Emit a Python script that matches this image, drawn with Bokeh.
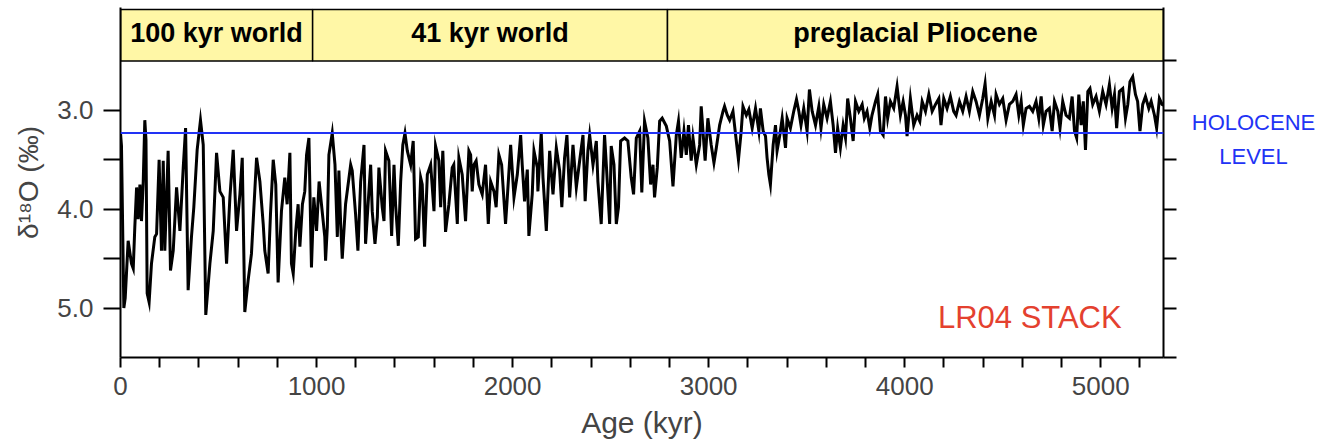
import numpy as np
from bokeh.plotting import figure
from bokeh.layouts import row
from bokeh.models import Range1d, LinearAxis, FixedTicker, Span, Label, ColumnDataSource, PrintfTickFormatter
from bokeh.core.properties import value
from bokeh.embed import file_html
from bokeh.resources import INLINE

# ---- LR04 benthic d18O stack (age kyr, d18O per mil) ----
age_100kyr = [0, 5, 17, 24, 39, 56, 65, 73, 82, 90, 99, 107, 116, 124, 130, 136, 146, 158, 175, 184,
              197, 209, 218, 226, 243, 255, 269, 286, 303, 311, 320, 332, 345, 362, 374, 391, 408, 422, 435, 456,
              473, 490, 507, 524, 541, 558, 575, 592, 609, 621, 634, 651, 668, 694, 711, 728, 736, 753, 765, 779,
              792, 804, 821, 838, 850, 864, 872, 881, 894, 906, 915, 928, 940, 949, 961, 974, 986, 1000, 1013, 1025,
              1042]
d18o_100kyr = [3.23, 3.36, 5.00, 4.90, 4.32, 4.55, 4.60, 4.18, 3.78, 4.10, 3.75, 4.12, 3.72, 3.10, 3.30, 4.85, 4.94, 4.55, 4.28, 4.25,
               3.50, 4.42, 3.51, 4.42, 3.41, 4.62, 4.42, 3.78, 4.22, 3.92, 3.58, 3.18, 4.82, 4.28, 3.98, 3.40, 3.10, 3.35, 5.07, 4.55,
               4.22, 3.43, 3.82, 3.88, 4.55, 3.88, 3.40, 4.22, 3.85, 3.48, 5.04, 4.72, 4.45, 3.48, 3.72, 4.15, 4.42, 4.65, 4.05, 3.50,
               3.75, 4.74, 4.02, 3.68, 3.95, 3.43, 4.55, 4.65, 4.22, 3.95, 4.38, 3.95, 3.82, 3.45, 3.28, 4.59, 3.88, 4.22, 3.72, 3.95,
               4.28]

age_41kyr_a = [1046, 1055, 1063, 1080, 1094, 1106, 1114, 1123, 1131, 1148, 1174, 1182, 1199, 1211, 1225, 1242, 1250, 1267, 1276, 1284,
               1298, 1310, 1318, 1335, 1344, 1352, 1369, 1383, 1395, 1403, 1417, 1429, 1440, 1451, 1463, 1480, 1493, 1505, 1519, 1531,
               1539, 1551, 1565, 1582, 1599, 1607, 1624, 1633, 1644, 1658, 1675, 1692, 1700, 1718, 1726, 1743, 1760, 1777, 1786, 1794,
               1803, 1814, 1828, 1845, 1862, 1876, 1888, 1905, 1916, 1930, 1944, 1964, 1973, 1990, 2007, 2024, 2041, 2049, 2061, 2075,
               2083, 2100, 2109, 2126]
d18o_41kyr_a = [4.52, 4.18, 3.45, 3.23, 3.55, 4.28, 3.61, 4.15, 4.50, 3.95, 3.55, 3.61, 4.05, 4.42, 3.72, 3.35, 4.35, 3.82, 3.55, 4.02,
                4.35, 4.08, 3.58, 3.98, 4.12, 3.41, 3.51, 4.27, 3.55, 3.95, 4.37, 3.72, 3.35, 3.23, 3.41, 3.55, 3.31, 4.30, 4.28, 3.68,
                3.75, 4.38, 3.65, 3.55, 4.02, 3.36, 3.51, 3.98, 3.41, 4.23, 3.95, 3.58, 3.55, 4.15, 3.48, 3.65, 4.12, 3.41, 3.45, 3.82,
                3.55, 3.51, 3.75, 3.85, 3.55, 4.15, 3.72, 3.82, 3.98, 3.45, 3.55, 4.15, 3.88, 3.35, 3.88, 3.65, 3.25, 3.55, 3.92, 3.60,
                4.27, 3.85, 3.41, 3.58]

age_41kyr_b = [2129, 2146, 2155, 2172, 2189, 2206, 2223, 2240, 2251, 2265, 2277, 2291, 2308, 2325, 2342, 2359, 2370, 2384, 2393, 2410,
               2427, 2435, 2452, 2469, 2478, 2495, 2503, 2517, 2529, 2540, 2551, 2571, 2588, 2605, 2617, 2631, 2648, 2659, 2673, 2690,
               2704, 2716, 2724, 2738, 2750, 2763, 2784, 2801, 2818, 2835, 2846, 2860, 2874, 2886, 2897, 2911, 2920, 2937, 2954, 2962,
               2971, 2982, 2996, 3013, 3027, 3039, 3056, 3073, 3081, 3095, 3107, 3124, 3141, 3152, 3166, 3175, 3192]
d18o_41kyr_b = [3.82, 3.23, 3.68, 4.22, 3.41, 3.85, 3.38, 3.61, 3.98, 3.48, 3.25, 3.88, 3.35, 3.78, 3.51, 3.25, 3.92, 3.41, 3.25, 3.55,
                3.31, 3.72, 4.15, 3.25, 3.55, 4.15, 3.36, 3.55, 4.15, 3.98, 3.31, 3.28, 3.31, 3.68, 3.85, 3.28, 3.21, 3.83, 3.11, 3.28,
                3.75, 3.55, 3.88, 3.58, 3.11, 3.08, 3.16, 3.31, 3.77, 3.25, 3.11, 3.48, 3.21, 3.45, 3.15, 3.51, 3.28, 3.55, 3.35, 2.96,
                3.21, 3.51, 3.08, 3.35, 3.53, 3.38, 3.15, 3.01, 2.96, 3.05, 3.10, 3.01, 3.31, 3.50, 3.21, 2.96, 3.05]

age_plio_a = [3205, 3222, 3239, 3256, 3264, 3278, 3290, 3298, 3307, 3315, 3329, 3341, 3349, 3363, 3375, 3392, 3400, 3417, 3434, 3448,
              3460, 3471, 3485, 3502, 3514, 3528, 3545, 3562, 3573, 3587, 3604, 3621, 3635, 3647, 3658, 3672, 3686, 3698, 3709, 3723,
              3737, 3749, 3766, 3783, 3794, 3808, 3822, 3833, 3851, 3862, 3876, 3890, 3902, 3913, 3927, 3944, 3961, 3978, 3992, 4004,
              4012, 4029, 4046, 4063, 4077, 4089, 4106, 4123, 4140, 4157, 4174, 4185, 4199, 4216, 4233, 4250]
d18o_plio_a = [2.99, 3.18, 2.98, 3.21, 2.98, 3.21, 3.26, 3.48, 3.65, 3.75, 3.35, 3.15, 3.41, 3.25, 3.08, 3.38, 3.08, 3.18, 3.01, 2.89,
               3.01, 3.15, 2.98, 3.21, 2.79, 3.01, 3.15, 2.96, 3.18, 2.94, 3.08, 2.91, 3.15, 3.43, 3.18, 3.38, 3.15, 3.28, 2.88, 3.08,
               3.31, 2.91, 3.01, 2.94, 3.08, 3.01, 3.18, 3.05, 2.91, 2.84, 3.21, 3.25, 2.86, 3.08, 2.91, 2.98, 2.76, 3.05, 2.91, 3.05,
               3.26, 2.88, 3.15, 3.05, 3.11, 2.91, 3.01, 2.84, 3.01, 2.94, 2.88, 3.15, 2.88, 2.98, 2.86, 3.01]

age_plio_b = [4262, 4279, 4296, 4313, 4330, 4347, 4364, 4381, 4398, 4410, 4424, 4441, 4458, 4466, 4483, 4500, 4517, 4534, 4551, 4568,
              4582, 4594, 4605, 4619, 4636, 4653, 4670, 4684, 4696, 4707, 4721, 4738, 4752, 4764, 4781, 4792, 4806, 4823, 4840, 4854,
              4866, 4877, 4888, 4900, 4911, 4922, 4934, 4945, 4959, 4976, 4993, 5010, 5027, 5044, 5058, 5070, 5081, 5095, 5112, 5126,
              5138, 5149, 5163, 5177, 5188, 5200, 5214, 5228, 5245, 5257, 5274, 5285, 5299, 5313, 5320]
d18o_plio_b = [3.05, 2.91, 3.01, 2.86, 3.01, 2.81, 2.91, 3.05, 2.88, 2.73, 3.08, 2.91, 3.05, 2.84, 2.94, 2.88, 3.10, 2.94, 2.91, 2.84,
               3.05, 2.91, 3.15, 2.98, 2.96, 3.01, 2.91, 3.08, 2.86, 3.15, 3.01, 2.98, 3.21, 2.91, 3.01, 3.18, 2.91, 3.05, 3.08, 2.86,
               3.21, 3.28, 2.84, 3.15, 2.91, 3.40, 2.81, 2.78, 2.94, 2.86, 3.01, 2.81, 2.94, 2.74, 2.98, 2.84, 3.18, 2.81, 2.78, 3.08,
               2.94, 2.71, 2.66, 2.84, 2.91, 3.21, 2.94, 2.86, 2.98, 2.91, 3.05, 3.18, 2.88, 2.94, 2.95]

regime_names = ["100 kyr world", "41 kyr world", "preglacial Pliocene"]
regime_start = [0, 980, 2790]
regime_end = [980, 2790, 5320]

holocene_level = 3.23
holocene_text = ["HOLOCENE", "LEVEL"]
holocene_text_y = [3.12, 3.47]

x_ticks = [0, 1000, 2000, 3000, 4000, 5000]
x_minor = [200, 400, 600, 800, 1200, 1400, 1600, 1800, 2200, 2400, 2600, 2800, 3200, 3400, 3600, 3800,
           4200, 4400, 4600, 4800, 5200]
y_ticks = [3.0, 4.0, 5.0]
y_minor_left = [3.5, 4.5]
y_ticks_right = [2.5, 3.0, 3.5, 4.0, 4.5, 5.0, 5.5]

age = np.concatenate([age_100kyr, age_41kyr_a, age_41kyr_b, age_plio_a, age_plio_b])
d18o = np.concatenate([d18o_100kyr, d18o_41kyr_a, d18o_41kyr_b, d18o_plio_a, d18o_plio_b])

FONT = "Liberation Sans"
TXT = "#444444"
BLUE = "#2233f5"
RED = "#e4412f"

y_range = Range1d(5.5, 1.96)

p = figure(width=1183, height=447, output_backend="svg", toolbar_location=None,
           x_range=Range1d(0, 5320), y_range=y_range,
           min_border_left=120, min_border_right=20, min_border_top=7, min_border_bottom=90)
p.outline_line_color = None
p.xgrid.visible = False
p.ygrid.visible = False
p.background_fill_color = "white"
p.border_fill_color = "white"

band = ColumnDataSource(dict(left=regime_start, right=regime_end, name=regime_names,
                             mid=[(a + b) / 2 for a, b in zip(regime_start, regime_end)]))
p.quad(left="left", right="right", bottom=2.5, top=1.98, source=band,
       fill_color="#fff7a6", line_color="black", line_width=1.5)
p.text(x="mid", y=2.22, text="name", source=band, text_align="center", text_baseline="middle",
       text_font=value(FONT), text_font_style="bold", text_font_size="27px", text_color="black")

p.line(age, d18o, line_color="black", line_width=3.0, line_join="miter")
p.add_layout(Span(location=holocene_level, dimension="width", line_color=BLUE, line_width=2))

xa = p.xaxis[0]
xa.ticker = FixedTicker(ticks=x_ticks, minor_ticks=x_minor)
xa.major_tick_out = 10
xa.major_tick_in = 0
xa.minor_tick_out = 10
xa.minor_tick_in = 0
xa.axis_line_width = 2
xa.major_tick_line_width = 2
xa.minor_tick_line_width = 2
xa.major_label_text_font = FONT
xa.major_label_text_font_size = "26px"
xa.major_label_text_color = TXT
xa.major_label_standoff = 9
xa.axis_label = "Age (kyr)"
xa.axis_label_text_font = FONT
xa.axis_label_text_font_size = "30px"
xa.axis_label_text_font_style = "normal"
xa.axis_label_text_color = TXT
xa.axis_label_standoff = 8

ya = p.yaxis[0]
ya.ticker = FixedTicker(ticks=y_ticks, minor_ticks=y_minor_left)
ya.formatter = PrintfTickFormatter(format="%.1f")
ya.major_tick_out = 17
ya.major_tick_in = 0
ya.minor_tick_out = 17
ya.minor_tick_in = 0
ya.axis_line_width = 2
ya.major_tick_line_width = 2
ya.minor_tick_line_width = 2
ya.major_label_text_font = FONT
ya.major_label_text_font_size = "26px"
ya.major_label_text_color = TXT
ya.major_label_standoff = 10
ya.axis_label = "δ¹⁸O (‰)"
ya.axis_label_text_font = FONT
ya.axis_label_text_font_size = "28px"
ya.axis_label_text_font_style = "normal"
ya.axis_label_text_color = TXT
ya.axis_label_standoff = 10

ra = LinearAxis(ticker=FixedTicker(ticks=[], minor_ticks=y_ticks_right),
                minor_tick_out=13, minor_tick_in=0,
                axis_line_width=2, minor_tick_line_width=2)
p.add_layout(ra, "right")

p.add_layout(Label(x=4638, y=5.10, text="LR04 STACK", text_align="center", text_baseline="alphabetic",
                   text_color=RED, text_font=FONT, text_font_size="31px"))

# side panel holding the "HOLOCENE LEVEL" note, sharing the y scale
q = figure(width=140, height=447, output_backend="svg", toolbar_location=None,
           x_range=Range1d(0, 1), y_range=y_range, x_axis_location=None, y_axis_location=None,
           min_border_left=0, min_border_right=0, min_border_top=7, min_border_bottom=90)
q.outline_line_color = None
q.xgrid.visible = False
q.ygrid.visible = False
q.text(x=[0.5, 0.5], y=holocene_text_y, text=holocene_text, text_align="center", text_baseline="middle",
       text_font=value(FONT), text_font_size="22px", text_color=BLUE)

open("out.html", "w").write(file_html(row(p, q), INLINE))
